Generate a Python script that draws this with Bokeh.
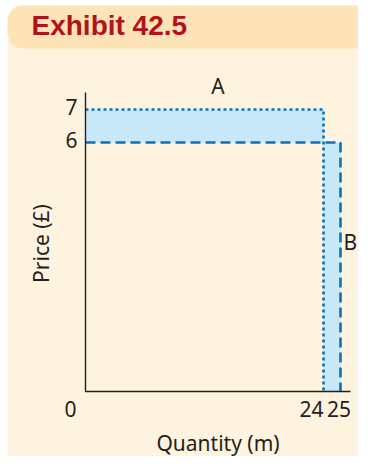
import math
from bokeh.plotting import figure
from bokeh.models import BoxAnnotation, Range1d
from bokeh.core.properties import value
from bokeh.embed import file_html
from bokeh.resources import INLINE

# ---- data ----
title_text = "Exhibit 42.5"
prices = [7, 6]            # original price, new price (£)
quantities = [24, 25]      # original quantity, new quantity (m)
price_ticks = [7, 6]
price_tick_labels = ["7", "6"]
qty_ticks = [24, 25]
qty_tick_labels = ["24", "25"]
origin_label = "0"
area_labels = ["A", "B"]
x_title = "Quantity (m)"
y_title = "Price (£)"

# ---- style / layout ----
W, H = 358, 456
FONT = value("Noto Sans")
FS = "21px"
INK = "#231f20"
BLUE = "#0b72bd"
FILL = "#c6e8f8"
CREAM = "#fef3de"
BAND = "#fde3b6"
RED = "#b1121c"

# schematic (broken) axes: visible data window and its pixel box
x_axis = (10, 25.588)
y_axis = (-1.545, 7.515)
box = dict(left=85, right=350, top=92, bottom=391)

def sx(px):
    return x_axis[0] + (px - box["left"]) * (x_axis[1] - x_axis[0]) / (box["right"] - box["left"])

def sy(py):
    return y_axis[0] + (box["bottom"] - py) * (y_axis[1] - y_axis[0]) / (box["bottom"] - box["top"])

p = figure(width=W, height=H, output_backend="svg", toolbar_location=None,
           x_range=Range1d(sx(0), sx(W)), y_range=Range1d(sy(H), sy(0)),
           x_axis_location=None, y_axis_location=None, min_border=0,
           border_fill_color="white", background_fill_color="white",
           outline_line_color=None)
p.grid.visible = False

# background panels
p.add_layout(BoxAnnotation(left=sx(7), right=sx(W + 20), top=sy(40), bottom=sy(H + 16),
                           fill_color=CREAM, fill_alpha=1, line_color=None,
                           border_radius=dict(bottom_left=20), level="underlay"))
p.add_layout(BoxAnnotation(left=sx(7), right=sx(373), top=sy(5), bottom=sy(48),
                           fill_color=BAND, fill_alpha=1, line_color=None,
                           border_radius=15, level="underlay"))
p.text(x=[sx(31)], y=[sy(36)], text=[title_text], text_font=value("Liberation Sans"),
       text_font_style="bold", text_font_size="28px", text_color=RED,
       text_baseline="alphabetic", text_align="left", y_offset=-11)

p_old, p_new = prices
q_old, q_new = quantities
x0, x1 = x_axis
y0, y1 = y_axis

# shaded areas A and B
p.quad(left=[x0], right=[q_old], bottom=[p_new], top=[p_old],
       fill_color=FILL, line_color=None)
p.quad(left=[q_old], right=[q_new], bottom=[y0], top=[p_new],
       fill_color=FILL, line_color=None)

# original price / quantity (dotted) and new (dashed)
p.line(x=[x0, q_old, q_old], y=[p_old, p_old, y0], line_color=BLUE,
       line_width=2.6, line_dash="3 3")
p.line(x=[x0, q_new, q_new], y=[p_new, p_new, y0], line_color=BLUE,
       line_width=2.6, line_dash="10 5")

# axis lines
p.line(x=[x0, x0, x1], y=[y1, y0, y0], line_color=INK, line_width=1.4)

lab = dict(text_font=FONT, text_font_size=FS, text_color=INK, text_baseline="alphabetic")
# y tick labels
p.text(x=[x0] * len(price_ticks), y=price_ticks, text=price_tick_labels,
       x_offset=-8, y_offset=-2.5, text_align="right", **lab)
# x tick labels and origin
p.text(x=[x0], y=[y0], text=[origin_label], x_offset=-15, y_offset=17.5,
       text_align="center", **lab)
p.text(x=[qty_ticks[0]], y=[y0], text=[qty_tick_labels[0]], x_offset=0, y_offset=17.5,
       text_align="right", **lab)
p.text(x=[qty_ticks[1]], y=[y0], text=[qty_tick_labels[1]], x_offset=-1.5, y_offset=17.5,
       text_align="center", **lab)
# area labels
p.text(x=[(x0 + x1) / 2], y=[y1], text=[area_labels[0]], y_offset=-7,
       text_align="center", **lab)
p.text(x=[x1], y=[p_new / 2], text=[area_labels[1]], x_offset=-7, y_offset=0,
       text_align="left", **lab)
# axis titles
p.text(x=[(x0 + x1) / 2], y=[y0], text=[x_title], y_offset=51,
       text_align="center", **lab)
p.text(x=[x0], y=[(y0 + y1) / 2], text=[y_title], x_offset=-44.5, y_offset=1.5,
       angle=math.pi / 2, text_align="center", **lab)

open("out.html", "w").write(file_html(p, INLINE))
